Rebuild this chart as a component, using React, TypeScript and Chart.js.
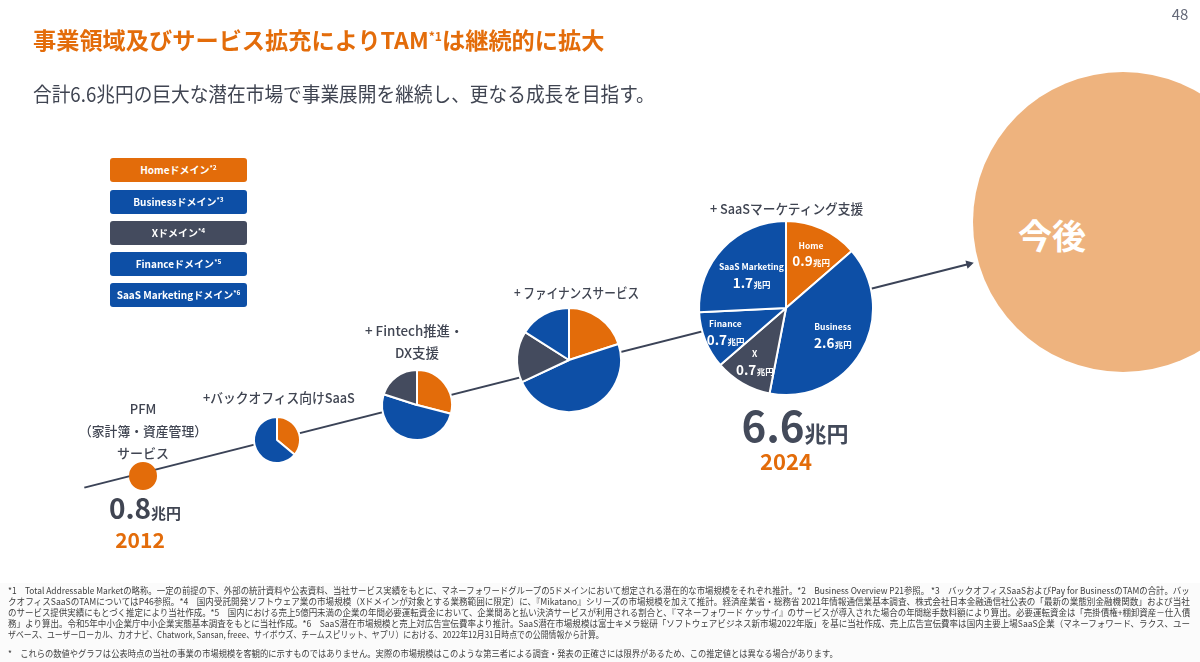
import React, { useEffect, useLayoutEffect, useRef } from "react";
import { Chart, registerables } from "chart.js";
Chart.register(...registerables);

const FONT = "'Noto Sans CJK JP', 'Noto Sans', sans-serif";
const ORANGE = "#E36C0A";
const BLUE = "#0D4FA6";
const SLATE = "#444B5E";
const TEXT = "#404552";
const LIGHT_ORANGE = "#EEB37E";

// ---- data ----
const domainNames = ["Home", "Business", "X", "Finance", "SaaS Marketing"];
const domainColors = [ORANGE, BLUE, SLATE, BLUE, BLUE];
const legendLabels = ["Homeドメイン", "Businessドメイン", "Xドメイン", "Financeドメイン", "SaaS Marketingドメイン"];
const legendNotes = ["*2", "*3", "*4", "*5", "*6"];

const pfmShares = [0.8];
const backOfficeShares = [0.36, 0.64];
const fintechShares = [0.29, 0.51, 0.2];
const financeShares = [0.2, 0.48, 0.16, 0.16];
const tam2024 = [0.9, 2.6, 0.7, 0.7, 1.7];
const labelRadiusFactors = [0.69, 0.62, 0.72, 0.75, 0.55];

const totalLabels = ["0.8", "6.6"];
const yearLabels = ["2012", "2024"];
const unitLabel = "兆円";
const pfmLines = ["PFM", "（家計簿・資産管理）", "サービス"];
const stageTitles = ["+バックオフィス向けSaaS", "+ Fintech推進・", "DX支援", "+ ファイナンスサービス", "+ SaaSマーケティング支援"];
const futureLabel = "今後";

const footnotes = [
  "*1　Total Addressable Marketの略称。一定の前提の下、外部の統計資料や公表資料、当社サービス実績をもとに、マネーフォワードグループの5ドメインにおいて想定される潜在的な市場規模をそれぞれ推計。*2　Business Overview P21参照。 *3　バックオフィスSaaSおよびPay for BusinessのTAMの合計。バッ",
  "クオフィスSaaSのTAMについてはP46参照。*4　国内受託開発ソフトウェア業の市場規模（Xドメインが対象とする業務範囲に限定）に、『Mikatano』シリーズの市場規模を加えて推計。経済産業省・総務省 2021年情報通信業基本調査、株式会社日本金融通信社公表の「最新の業態別金融機関数」および当社",
  "のサービス提供実績にもとづく推定により当社作成。*5　国内における売上5億円未満の企業の年間必要運転資金において、企業間あと払い決済サービスが利用される割合と、『マネーフォワード ケッサイ』のサービスが導入された場合の年間総手数料額により算出。必要運転資金は「売掛債権+棚卸資産－仕入債",
  "務」より算出。令和5年中小企業庁中小企業実態基本調査をもとに当社作成。*6　SaaS潜在市場規模と売上対広告宣伝費率より推計。SaaS潜在市場規模は富士キメラ総研「ソフトウェアビジネス新市場2022年版」を基に当社作成、売上広告宣伝費率は国内主要上場SaaS企業（マネーフォワード、ラクス、ユー",
  "ザベース、ユーザーローカル、カオナビ、Chatwork, Sansan, freee、サイボウズ、チームスピリット、ヤプリ）における、2022年12月31日時点での公開情報から計算。",
  "*　これらの数値やグラフは公表時点の当社の事業の市場規模を客観的に示すものではありません。実際の市場規模はこのような第三者による調査・発表の正確さには限界があるため、この推定値とは異なる場合があります。",
];
const footnoteWidths = [1182, 1182, 1182, 1182, 596, 830];
const footnoteY = [591, 602, 613, 624, 635, 654];

// ---- helpers ----
function Txt({ x, y, size, color = TEXT, weight = 400, w, align = "center", children }: any) {
  const ref = useRef<HTMLDivElement>(null);
  useLayoutEffect(() => {
    if (!w) return;
    const el = ref.current!;
    const fit = () => {
      const nat = el.offsetWidth;
      if (nat > 0) el.style.transform = `scaleX(${w / nat})`;
    };
    fit();
    (document as any).fonts?.ready?.then(fit);
  }, []);
  const style: any = {
    position: "absolute",
    top: y - size * 0.7,
    fontSize: size,
    lineHeight: `${size * 1.4}px`,
    color,
    fontWeight: weight,
    whiteSpace: "nowrap",
    fontFamily: FONT,
  };
  if (w) {
    style.left = align === "center" ? x - w / 2 : x;
    style.transformOrigin = "left center";
  } else if (align === "center") {
    style.left = x;
    style.transform = "translateX(-50%)";
  } else style.left = x;
  return (
    <div ref={ref} style={style}>
      {children}
    </div>
  );
}

const sliceLabelPlugin = {
  id: "sliceLabels",
  afterDatasetsDraw(chart: any) {
    const meta = chart.getDatasetMeta(0);
    const ctx = chart.ctx;
    const data = chart.data.datasets[0].data as number[];
    meta.data.forEach((arc: any, i: number) => {
      const { x, y, startAngle, endAngle, outerRadius } = arc.getProps(
        ["x", "y", "startAngle", "endAngle", "outerRadius"],
        true
      );
      const mid = (startAngle + endAngle) / 2;
      const rr = outerRadius * labelRadiusFactors[i];
      const px = x + Math.cos(mid) * rr;
      const py = y + Math.sin(mid) * rr;
      ctx.save();
      ctx.fillStyle = "#fff";
      ctx.textAlign = "center";
      ctx.textBaseline = "middle";
      ctx.font = `bold 8.5px ${FONT}`;
      ctx.fillText(chart.data.labels[i], px, py - 8);
      const v = data[i].toFixed(1);
      ctx.font = `bold 13.5px ${FONT}`;
      const w1 = ctx.measureText(v).width;
      ctx.font = `bold 8.5px ${FONT}`;
      const w2 = ctx.measureText(unitLabel).width;
      const start = px - (w1 + w2) / 2;
      ctx.textAlign = "left";
      ctx.textBaseline = "alphabetic";
      ctx.font = `bold 13.5px ${FONT}`;
      ctx.fillText(v, start, py + 13);
      ctx.font = `bold 8.5px ${FONT}`;
      ctx.fillText(unitLabel, start + w1 + 0.5, py + 13);
      ctx.restore();
    });
  },
};

function Pie({ values, cx, cy, r, labels = false }: any) {
  const ref = useRef<HTMLCanvasElement>(null);
  const size = Math.ceil(2 * r + 8);
  useEffect(() => {
    const chart = new Chart(ref.current!, {
      type: "pie",
      data: {
        labels: domainNames.slice(0, values.length),
        datasets: [
          {
            data: values,
            backgroundColor: domainColors.slice(0, values.length),
            borderColor: "#ffffff",
            borderWidth: values.length > 1 ? 2 : 0,
            hoverOffset: 0,
          },
        ],
      },
      options: {
        responsive: false,
        animation: false,
        radius: r,
        events: [],
        layout: { padding: 0 },
        plugins: { legend: { display: false }, tooltip: { enabled: false } },
      } as any,
      plugins: labels ? [sliceLabelPlugin] : [],
    });
    return () => chart.destroy();
  }, []);
  return (
    <canvas
      ref={ref}
      width={size}
      height={size}
      style={{ position: "absolute", left: cx - size / 2, top: cy - size / 2, width: size, height: size }}
    />
  );
}

function TrendArrow() {
  const ref = useRef<HTMLCanvasElement>(null);
  useEffect(() => {
    const chart = new Chart(ref.current!, {
      type: "scatter",
      data: {
        datasets: [
          {
            data: [
              { x: 80, y: 490 },
              { x: 972, y: 263 },
            ],
            showLine: true,
            borderColor: "#3B4357",
            borderWidth: 2,
            pointRadius: [0, 5],
            pointStyle: "triangle",
            rotation: [0, 75.7],
            pointBackgroundColor: "#3B4357",
            pointBorderColor: "#3B4357",
            pointBorderWidth: 0,
          } as any,
        ],
      },
      options: {
        responsive: false,
        animation: false,
        events: [],
        layout: { padding: 0 },
        plugins: { legend: { display: false }, tooltip: { enabled: false } },
        scales: {
          x: { type: "linear", min: 0, max: 1200, display: false },
          y: { type: "linear", min: 0, max: 662, reverse: true, display: false },
        },
      },
    });
    return () => chart.destroy();
  }, []);
  return (
    <canvas ref={ref} width={1200} height={662} style={{ position: "absolute", left: 0, top: 0, width: 1200, height: 662 }} />
  );
}

export default function App() {
  useLayoutEffect(() => {
    document.body.style.margin = "0";
  }, []);
  const legendTops = [158, 190, 221, 252, 283];
  return (
    <div
      style={{
        position: "relative",
        width: 1200,
        height: 662,
        overflow: "hidden",
        background: "#fff",
        fontFamily: FONT,
      }}
    >
      <div style={{ position: "absolute", left: 0, top: 583, width: 1200, height: 79, background: "#FBFBFB" }} />
      <TrendArrow />
      <div
        style={{
          position: "absolute",
          left: 973,
          top: 72,
          width: 300,
          height: 300,
          borderRadius: "50%",
          background: LIGHT_ORANGE,
        }}
      />
      <Txt x={1052} y={235} size={34} color="#fff" weight={700}>
        {futureLabel}
      </Txt>

      {/* title */}
      <Txt x={33} y={39} size={23} color={ORANGE} weight={700} w={571} align="left">
        事業領域及びサービス拡充によりTAM
        <span style={{ fontSize: 12, position: "relative", top: -8 }}>*1</span>
        は継続的に拡大
      </Txt>
      <Txt x={33} y={94} size={20} color={TEXT} w={622} align="left">
        合計6.6兆円の巨大な潜在市場で事業展開を継続し、更なる成長を目指す。
      </Txt>
      <Txt x={1180} y={13} size={15} color="#646978">
        48
      </Txt>

      {/* legend */}
      {legendLabels.map((l, i) => (
        <div
          key={l}
          style={{
            position: "absolute",
            left: 110,
            top: legendTops[i],
            width: 137,
            height: 24,
            borderRadius: 3,
            background: domainColors[i],
            color: "#fff",
            fontWeight: 700,
            fontSize: 10,
            lineHeight: "24px",
            textAlign: "center",
            fontFamily: FONT,
            whiteSpace: "nowrap",
          }}
        >
          {l}
          <span style={{ fontSize: 6.5, position: "relative", top: -4 }}>{legendNotes[i]}</span>
        </div>
      ))}

      {/* pies */}
      <Pie values={pfmShares} cx={143} cy={476} r={14} />
      <Pie values={backOfficeShares} cx={277} cy={440} r={23} />
      <Pie values={fintechShares} cx={417} cy={405} r={35} />
      <Pie values={financeShares} cx={569} cy={360} r={52} />
      <Pie values={tam2024} cx={786} cy={308} r={87} labels />

      {/* stage labels */}
      <Txt x={143} y={409} size={13} weight={500}>{pfmLines[0]}</Txt>
      <Txt x={143} y={431} size={13} weight={500} w={128}>{pfmLines[1]}</Txt>
      <Txt x={143} y={453} size={13} weight={500}>{pfmLines[2]}</Txt>
      <Txt x={279} y={397} size={13.5} weight={500} w={152}>{stageTitles[0]}</Txt>
      <Txt x={414} y={330} size={13.5} weight={500} w={98}>{stageTitles[1]}</Txt>
      <Txt x={417} y={352} size={13.5} weight={500}>{stageTitles[2]}</Txt>
      <Txt x={576} y={292} size={13.5} weight={500} w={125}>{stageTitles[3]}</Txt>
      <Txt x={786} y={208} size={13.5} weight={500} w={153}>{stageTitles[4]}</Txt>

      {/* totals */}
      <Txt x={145} y={508} size={28} weight={700} color={TEXT}>
        {totalLabels[0]}
        <span style={{ fontSize: 15 }}>{unitLabel}</span>
      </Txt>
      <Txt x={140} y={540} size={21} weight={700} color={ORANGE}>
        {yearLabels[0]}
      </Txt>
      <Txt x={795} y={424} size={42} weight={700} color="#434A5A">
        {totalLabels[1]}
        <span style={{ fontSize: 22 }}>{unitLabel}</span>
      </Txt>
      <Txt x={786} y={460} size={22} weight={700} color={ORANGE}>
        {yearLabels[1]}
      </Txt>

      {/* footnotes */}
      {footnotes.map((f, i) => (
        <Txt key={i} x={8} y={footnoteY[i]} size={9} color="#404040" w={footnoteWidths[i]} align="left">
          {f}
        </Txt>
      ))}
    </div>
  );
}
